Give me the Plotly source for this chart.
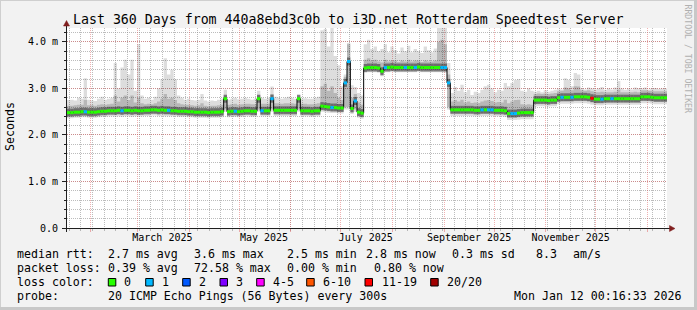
import numpy as np
import pandas as pd
import plotly.graph_objects as go

# ---------------- data (2-day bins, values in ms) ----------------
median_ms = [
    2.48, 2.48, 2.49, 2.49, 2.50, 2.50, 2.49, 2.49, 2.49, 2.50, 2.51, 2.51, 2.52, 2.52, 2.52, 2.53, 2.52, 2.53, 2.53, 2.52,
    2.53, 2.52, 2.52, 2.53, 2.53, 2.54, 2.54, 2.53, 2.54, 2.53, 2.53, 2.52, 2.52, 2.51, 2.51, 2.51, 2.50, 2.50, 2.49, 2.49,
    2.49, 2.49, 2.48, 2.49, 2.49, 2.49, 2.50, 2.78, 2.50, 2.51, 2.51, 2.50, 2.51, 2.52, 2.52, 2.51, 2.51, 2.78, 2.52, 2.52,
    2.52, 2.78, 2.53, 2.53, 2.53, 2.53, 2.53, 2.53, 2.53, 2.78, 2.52, 2.52, 2.52, 2.51, 2.52, 2.52, 2.62, 2.61, 2.60, 2.59,
    2.59, 2.58, 2.58, 3.12, 3.58, 2.57, 2.73, 2.49, 2.47, 3.44, 3.45, 3.45, 3.45, 3.44, 3.37, 3.45, 3.45, 3.46, 3.45, 3.45,
    3.45, 3.45, 3.45, 3.45, 3.45, 3.46, 3.45, 3.45, 3.45, 3.45, 3.45, 3.45, 3.45, 3.45, 3.12, 2.54, 2.54, 2.54, 2.54, 2.54,
    2.54, 2.54, 2.53, 2.53, 2.54, 2.54, 2.54, 2.54, 2.53, 2.53, 2.53, 2.52, 2.46, 2.46, 2.46, 2.47, 2.48, 2.48, 2.48, 2.48,
    2.75, 2.75, 2.75, 2.75, 2.74, 2.75, 2.75, 2.80, 2.81, 2.81, 2.81, 2.81, 2.82, 2.82, 2.82, 2.82, 2.81, 2.79, 2.77, 2.77,
    2.77, 2.78, 2.78, 2.78, 2.78, 2.78, 2.78, 2.78, 2.78, 2.78, 2.78, 2.78, 2.82, 2.82, 2.82, 2.81, 2.80, 2.80, 2.80, 2.80,
]
smoke_max = [
    2.75, 2.76, 2.74, 2.80, 2.78, 3.22, 2.76, 2.74, 2.73, 2.78, 2.82, 2.76, 2.78, 2.80, 3.55, 3.00, 3.45, 3.62, 3.30, 3.62,
    2.95, 3.95, 2.85, 2.78, 2.80, 2.76, 2.82, 3.00, 3.20, 3.65, 3.30, 3.40, 3.20, 2.85, 2.80, 2.76, 2.78, 2.75, 2.74, 2.76,
    2.88, 2.74, 2.72, 2.74, 2.73, 2.76, 2.78, 2.97, 2.76, 2.78, 2.80, 2.77, 2.78, 2.80, 2.78, 2.76, 2.78, 2.95, 2.80, 2.78,
    2.80, 3.04, 2.82, 2.80, 2.78, 2.80, 2.82, 2.80, 2.78, 2.80, 2.78, 2.79, 2.78, 2.78, 2.80, 2.82, 4.25, 4.28, 3.90, 4.32,
    3.70, 3.50, 3.05, 3.30, 3.98, 3.07, 3.03, 2.90, 2.85, 3.95, 4.05, 3.85, 3.90, 3.80, 3.85, 3.95, 3.78, 3.90, 3.82, 3.75,
    3.88, 3.80, 3.92, 3.78, 3.85, 3.80, 3.76, 3.90, 3.82, 3.78, 3.86, 4.35, 4.35, 4.35, 3.55, 2.90, 3.03, 2.95, 3.08, 2.92,
    2.97, 2.86, 2.93, 2.90, 2.97, 3.05, 3.08, 3.00, 2.92, 2.97, 2.95, 3.12, 3.05, 3.12, 3.18, 3.20, 2.95, 2.93, 3.00, 2.95,
    2.93, 2.95, 2.92, 2.96, 2.93, 2.95, 2.97, 3.00, 2.98, 3.22, 3.18, 3.05, 3.33, 3.30, 3.00, 2.98, 3.02, 3.00, 2.98, 3.00,
    3.03, 2.97, 3.00, 2.98, 3.02, 3.16, 3.00, 2.97, 3.00, 2.98, 3.02, 3.00, 3.00, 3.02, 2.98, 3.00, 3.01, 2.99, 3.00, 3.00,
]
smoke_hi = [
    2.63, 2.63, 2.64, 2.65, 2.65, 2.75, 2.64, 2.64, 2.63, 2.65, 2.66, 2.65, 2.66, 2.67, 2.85, 2.72, 2.80, 2.85, 2.75, 2.85,
    2.70, 2.80, 2.68, 2.66, 2.67, 2.66, 2.68, 2.72, 2.78, 2.88, 2.78, 2.80, 2.75, 2.68, 2.66, 2.65, 2.65, 2.64, 2.63, 2.64,
    2.68, 2.63, 2.62, 2.63, 2.63, 2.64, 2.65, 2.85, 2.65, 2.66, 2.67, 2.65, 2.66, 2.67, 2.67, 2.66, 2.66, 2.85, 2.67, 2.67,
    2.67, 2.88, 2.68, 2.68, 2.67, 2.68, 2.68, 2.68, 2.67, 2.85, 2.67, 2.67, 2.66, 2.66, 2.67, 2.68, 3.05, 3.10, 2.95, 3.05,
    2.90, 2.80, 2.75, 3.25, 3.95, 2.80, 2.88, 2.70, 2.65, 3.62, 3.65, 3.60, 3.62, 3.58, 3.56, 3.62, 3.58, 3.60, 3.60, 3.57,
    3.60, 3.58, 3.62, 3.58, 3.60, 3.60, 3.57, 3.60, 3.58, 3.58, 3.60, 4.00, 4.05, 3.95, 3.30, 2.72, 2.75, 2.72, 2.76, 2.70,
    2.72, 2.69, 2.70, 2.69, 2.72, 2.74, 2.75, 2.73, 2.70, 2.71, 2.70, 2.76, 2.68, 2.72, 2.75, 2.76, 2.66, 2.65, 2.66, 2.65,
    2.88, 2.89, 2.88, 2.89, 2.88, 2.89, 2.90, 2.94, 2.95, 3.02, 3.00, 2.96, 3.05, 3.04, 2.96, 2.95, 2.96, 2.94, 2.92, 2.92,
    2.93, 2.92, 2.92, 2.92, 2.93, 2.98, 2.92, 2.92, 2.92, 2.92, 2.93, 2.92, 2.96, 2.96, 2.95, 2.95, 2.94, 2.94, 2.94, 2.94,
]
smoke_lo = [
    2.41, 2.41, 2.42, 2.42, 2.43, 2.43, 2.42, 2.42, 2.42, 2.43, 2.44, 2.44, 2.45, 2.45, 2.44, 2.45, 2.44, 2.45, 2.45, 2.44,
    2.45, 2.44, 2.45, 2.46, 2.46, 2.47, 2.47, 2.46, 2.46, 2.45, 2.45, 2.45, 2.45, 2.44, 2.44, 2.44, 2.43, 2.43, 2.42, 2.42,
    2.42, 2.42, 2.41, 2.42, 2.42, 2.42, 2.43, 2.55, 2.43, 2.44, 2.44, 2.43, 2.44, 2.45, 2.45, 2.44, 2.44, 2.55, 2.45, 2.45,
    2.45, 2.55, 2.46, 2.46, 2.46, 2.46, 2.46, 2.46, 2.46, 2.55, 2.45, 2.45, 2.45, 2.44, 2.45, 2.45, 2.55, 2.54, 2.53, 2.52,
    2.52, 2.51, 2.51, 2.60, 2.60, 2.50, 2.55, 2.42, 2.40, 3.38, 3.39, 3.39, 3.39, 3.38, 3.30, 3.39, 3.39, 3.40, 3.39, 3.39,
    3.39, 3.39, 3.39, 3.39, 3.39, 3.40, 3.39, 3.39, 3.39, 3.39, 3.39, 3.39, 3.39, 3.38, 2.60, 2.47, 2.47, 2.47, 2.47, 2.47,
    2.47, 2.47, 2.46, 2.46, 2.47, 2.47, 2.47, 2.47, 2.46, 2.46, 2.46, 2.45, 2.39, 2.39, 2.39, 2.40, 2.41, 2.41, 2.41, 2.41,
    2.67, 2.68, 2.68, 2.68, 2.67, 2.68, 2.68, 2.72, 2.73, 2.73, 2.73, 2.73, 2.74, 2.74, 2.74, 2.74, 2.73, 2.71, 2.70, 2.70,
    2.70, 2.71, 2.71, 2.71, 2.71, 2.71, 2.71, 2.71, 2.71, 2.71, 2.71, 2.71, 2.74, 2.74, 2.74, 2.73, 2.72, 2.72, 2.72, 2.72,
]
smoke_min = [
    2.36, 2.36, 2.37, 2.37, 2.38, 2.38, 2.37, 2.37, 2.37, 2.38, 2.39, 2.39, 2.40, 2.40, 2.39, 2.40, 2.39, 2.40, 2.40, 2.39,
    2.40, 2.39, 2.40, 2.41, 2.41, 2.42, 2.42, 2.41, 2.41, 2.40, 2.40, 2.40, 2.40, 2.39, 2.39, 2.39, 2.38, 2.38, 2.37, 2.37,
    2.37, 2.37, 2.36, 2.37, 2.37, 2.37, 2.38, 2.50, 2.38, 2.39, 2.39, 2.38, 2.39, 2.40, 2.40, 2.39, 2.39, 2.50, 2.40, 2.40,
    2.40, 2.50, 2.41, 2.41, 2.41, 2.41, 2.41, 2.41, 2.41, 2.50, 2.40, 2.40, 2.40, 2.39, 2.40, 2.40, 2.50, 2.49, 2.48, 2.47,
    2.47, 2.46, 2.46, 2.55, 2.55, 2.45, 2.50, 2.37, 2.35, 3.34, 3.35, 3.35, 3.35, 3.34, 3.26, 3.35, 3.35, 3.36, 3.35, 3.35,
    3.35, 3.35, 3.35, 3.35, 3.35, 3.36, 3.35, 3.35, 3.35, 3.35, 3.35, 3.35, 3.35, 3.34, 2.55, 2.41, 2.41, 2.41, 2.41, 2.41,
    2.41, 2.41, 2.40, 2.40, 2.41, 2.41, 2.41, 2.41, 2.40, 2.40, 2.40, 2.39, 2.32, 2.32, 2.32, 2.33, 2.34, 2.34, 2.34, 2.34,
    2.61, 2.62, 2.62, 2.62, 2.61, 2.62, 2.62, 2.66, 2.67, 2.67, 2.67, 2.67, 2.68, 2.68, 2.68, 2.68, 2.67, 2.65, 2.64, 2.64,
    2.64, 2.65, 2.65, 2.65, 2.65, 2.65, 2.65, 2.65, 2.65, 2.65, 2.65, 2.65, 2.68, 2.68, 2.68, 2.67, 2.66, 2.66, 2.66, 2.66,
]
# bins with packet loss (index into the bins, lost pings out of 20)
loss_idx = [5, 16, 30, 50, 58, 61, 79, 83, 84, 86, 95, 101, 104, 112, 113, 114, 124, 126, 127, 133, 134, 148, 151, 157, 160, 163]
loss_cnt = [1, 1, 1, 1, 1, 1, 1, 1, 1, 1, 1, 1, 1, 1, 1, 1, 1, 1, 1, 1, 1, 1, 1, 12, 1, 1]

loss_labels = ["0", "1", "2", "3", "4-5", "6-10", "11-19", "20/20"]
loss_upper = [0, 1, 2, 3, 5, 10, 19, 20]
loss_colors = ["#26ff00", "#00b8ff", "#0059ff", "#7e00ff", "#ff00ff", "#ff5500", "#ff0000", "#a10000"]

y_tick_vals = [0, 1, 2, 3, 4]
y_tick_text = ["0.0", "1.0 m", "2.0 m", "3.0 m", "4.0 m"]
x_label_dates = ["2025-03-16", "2025-05-16", "2025-07-16", "2025-09-16", "2025-11-16"]
x_label_text = ["March 2025", "May 2025", "July 2025", "September 2025", "November 2025"]

title_text = "Last 360 Days from 440a8ebd3c0b to i3D.net Rotterdam Speedtest Server"
legend_rows = [
    [("median rtt:", 16), ("2.7 ms avg", 107.3), ("3.6 ms max", 192.7), ("2.5 ms min", 286),
     ("2.8 ms now", 365), ("0.3 ms sd", 450.7), ("8.3", 535), ("am/s", 572.3)],
    [("packet loss:", 16), ("0.39 % avg", 107.3), ("72.58 % max", 192.7), ("0.00 % min", 286),
     ("0.80 % now", 372.7)],
    [("loss color:", 16)],
    [("probe:", 16), ("20 ICMP Echo Pings (56 Bytes) every 300s", 107.3),
     ("Mon Jan 12 00:16:33 2026", 513.3)],
]
row_y = [254, 268, 282, 296]
swatch_x = [108.3, 145.7, 182.7, 220, 256.7, 306.7, 365, 430.7]
swatch_label_x = [123.3, 160.7, 197.7, 235, 271.7, 321.7, 380.7, 446]

# ---------------- geometry helpers ----------------
W, H = 697, 310
L, R, T, B = 67, 30, 28, 82
PW, PH = W - L - R, H - T - B


def px(x):
    return (x - L) / PW


def py(y):
    return (H - B - y) / PH


FONT = "DejaVu Sans Mono"
GRID = "rgba(143,143,143,0.6)"
MGRID = "rgba(222,79,79,0.45)"
AXIS = "#1f1f1f"
ARROW = "#801f1f"

n = len(median_ms)
start = pd.Timestamp("2025-01-17 18:40:00")
end = start + pd.Timedelta(days=360)
edges = [start + pd.Timedelta(days=2 * i) for i in range(n + 1)]

fig = go.Figure()


def step_y(vals):
    return list(vals) + [vals[-1]]


# smoke: light outer band, then mid band
for lo, hi, col in [(smoke_min, smoke_max, "rgba(0,0,0,0.135)"),
                    (smoke_lo, smoke_hi, "rgba(0,0,0,0.17)")]:
    fig.add_trace(go.Scatter(x=edges, y=step_y(lo), mode="lines", line=dict(width=0, shape="hv"),
                             hoverinfo="skip", showlegend=False))
    fig.add_trace(go.Scatter(x=edges, y=step_y(hi), mode="lines", line=dict(width=0, shape="hv"),
                             fill="tonexty", fillcolor=col, hoverinfo="skip", showlegend=False))


def flat_segments(idx):
    xs, ys = [], []
    for i in idx:
        xs += [edges[i], edges[i + 1], None]
        ys += [median_ms[i], median_ms[i], None]
    return xs, ys


# dark core of the smoke around the median (horizontal pieces only)
xs, ys = flat_segments(range(n))
fig.add_trace(go.Scatter(x=xs, y=ys, mode="lines", line=dict(width=8, color="rgba(50,50,50,0.55)"),
                         connectgaps=False, hoverinfo="skip", showlegend=False))
# black median step line (shows at the transitions)
fig.add_trace(go.Scatter(x=edges, y=step_y(median_ms), mode="lines",
                         line=dict(width=1, shape="hv", color="#000000"),
                         hoverinfo="skip", showlegend=False))

# median coloured by loss
loss_per_bin = [0] * n
for i, c in zip(loss_idx, loss_cnt):
    loss_per_bin[i] = c


def loss_class(c):
    for k, u in enumerate(loss_upper):
        if c <= u:
            return k
    return len(loss_upper) - 1


for k, col in enumerate(loss_colors):
    idx = [i for i in range(n) if loss_class(loss_per_bin[i]) == k]
    if idx:
        xs, ys = flat_segments(idx)
        fig.add_trace(go.Scatter(x=xs, y=ys, mode="lines", line=dict(width=3, color=col),
                                 connectgaps=False, hoverinfo="skip", showlegend=False))

# invisible trace that carries the label axis
fig.add_trace(go.Scatter(x=[start, end], y=[0, 0], xaxis="x2", mode="lines",
                         line=dict(width=0), hoverinfo="skip", showlegend=False))

month_starts = pd.date_range("2025-02-01", "2026-01-01", freq="MS")

fig.update_layout(
    width=W, height=H,
    margin=dict(l=L, r=R, t=T, b=B, pad=0),
    paper_bgcolor="#f2f2f2", plot_bgcolor="#ffffff",
    showlegend=False,
    font=dict(family=FONT, size=10, color="#000000"),
    xaxis=dict(type="date", range=[start, end], tickmode="array", tickvals=list(month_starts),
               showticklabels=False, ticks="outside", ticklen=3, tickcolor=MGRID, tickwidth=1,
               showgrid=True, gridcolor=MGRID, griddash="1px,1px", gridwidth=1,
               zeroline=False, showline=False, fixedrange=True,
               minor=dict(tickmode="linear", tick0="2025-01-19", dtick=7 * 86400000,
                          showgrid=True, gridcolor=GRID, griddash="1px,1px", gridwidth=1,
                          ticks="outside", ticklen=2, tickcolor=GRID)),
    xaxis2=dict(type="date", range=[start, end], overlaying="x", side="bottom", anchor="y",
                tickmode="array", tickvals=x_label_dates, ticktext=x_label_text,
                ticks="", showgrid=False, zeroline=False, showline=False,
                tickfont=dict(family=FONT, size=10, color="#000000"), ticklabelstandoff=2),
    yaxis=dict(range=[0, 4.3], tickmode="array", tickvals=y_tick_vals, ticktext=y_tick_text,
               ticks="outside", ticklen=4, tickcolor=AXIS, tickwidth=1,
               showgrid=True, gridcolor=MGRID, griddash="1px,1px", gridwidth=1,
               zeroline=False, showline=False, fixedrange=True,
               tickfont=dict(family=FONT, size=10, color="#000000"), ticklabelstandoff=2,
               minor=dict(tickmode="linear", tick0=0, dtick=0.2, showgrid=True, gridcolor=GRID,
                          griddash="1px,1px", gridwidth=1, ticks="outside", ticklen=2,
                          tickcolor=AXIS)),
)

shapes = []
# frame (3D-like border)
shapes.append(dict(type="line", xref="paper", yref="paper", x0=px(0), x1=px(W), y0=py(0.5), y1=py(0.5),
                   line=dict(color="#cfcfcf", width=1)))
shapes.append(dict(type="line", xref="paper", yref="paper", x0=px(0.5), x1=px(0.5), y0=py(0), y1=py(H),
                   line=dict(color="#cfcfcf", width=1)))
shapes.append(dict(type="rect", xref="paper", yref="paper", x0=px(W - 3), x1=px(W), y0=py(0), y1=py(H),
                   fillcolor="#c8c8c8", line=dict(width=0)))
shapes.append(dict(type="rect", xref="paper", yref="paper", x0=px(0), x1=px(W), y0=py(H - 3), y1=py(H),
                   fillcolor="#c8c8c8", line=dict(width=0)))
# axis lines
shapes.append(dict(type="line", xref="paper", yref="paper", x0=px(62), x1=px(670), y0=py(228.5), y1=py(228.5),
                   line=dict(color=AXIS, width=1)))
shapes.append(dict(type="line", xref="paper", yref="paper", x0=px(66.5), x1=px(66.5), y0=py(232), y1=py(24),
                   line=dict(color=AXIS, width=1)))
# arrows
shapes.append(dict(type="path", xref="paper", yref="paper",
                   path=f"M {px(66.5)},{py(20.5)} L {px(63.5)},{py(26)} L {px(69.5)},{py(26)} Z",
                   fillcolor=ARROW, line=dict(color=ARROW, width=0.5)))
shapes.append(dict(type="path", xref="paper", yref="paper",
                   path=f"M {px(675)},{py(228.5)} L {px(669.5)},{py(225.5)} L {px(669.5)},{py(231.5)} Z",
                   fillcolor=ARROW, line=dict(color=ARROW, width=0.5)))
# loss colour swatches
for sx, col in zip(swatch_x, loss_colors):
    shapes.append(dict(type="rect", xref="paper", yref="paper", x0=px(sx), x1=px(sx + 7.5),
                       y0=py(286), y1=py(278.5), fillcolor=col, line=dict(color="#000000", width=1)))
fig.update_layout(shapes=shapes)

ann = []
ann.append(dict(text=title_text, xref="paper", yref="paper", x=px(348), y=py(19),
                xanchor="center", yanchor="middle", showarrow=False,
                font=dict(family=FONT, size=13.25, color="#000000")))
ann.append(dict(text="Seconds", xref="paper", yref="paper", x=px(10), y=py(127), textangle=-90,
                xanchor="center", yanchor="middle", showarrow=False,
                font=dict(family=FONT, size=11.6, color="#000000")))
ann.append(dict(text="RRDTOOL / TOBI OETIKER", xref="paper", yref="paper", x=px(687.5), y=py(59),
                textangle=90, xanchor="center", yanchor="middle", showarrow=False,
                font=dict(family=FONT, size=8.2, color="#b0b0b0")))
for row, ry in zip(legend_rows, row_y):
    for txt, tx in row:
        ann.append(dict(text=txt, xref="paper", yref="paper", x=px(tx - 1), y=py(ry),
                        xanchor="left", yanchor="middle", showarrow=False,
                        font=dict(family=FONT, size=11.6, color="#000000")))
for lx, lab in zip(swatch_label_x, loss_labels):
    ann.append(dict(text=lab, xref="paper", yref="paper", x=px(lx - 1), y=py(row_y[2]),
                    xanchor="left", yanchor="middle", showarrow=False,
                    font=dict(family=FONT, size=11.6, color="#000000")))
fig.update_layout(annotations=ann)

fig.write_html("out.html")
